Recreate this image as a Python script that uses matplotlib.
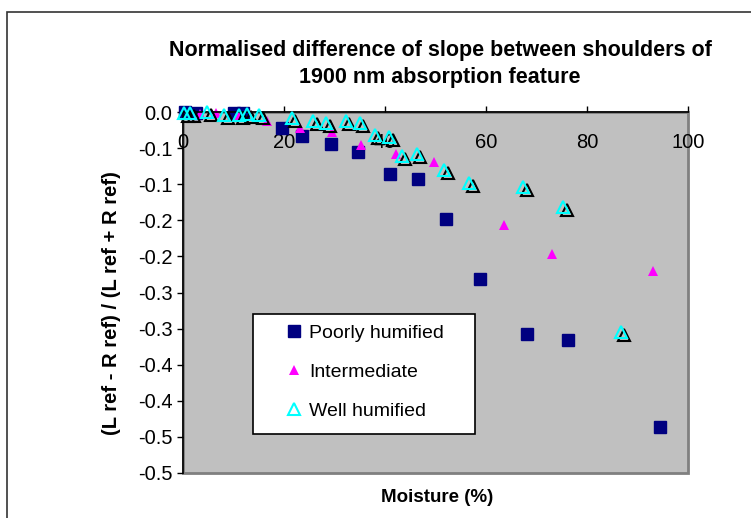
import matplotlib
matplotlib.use('Agg')
import matplotlib.pyplot as plt
import matplotlib.transforms as mtransforms
from matplotlib.patches import Rectangle
import numpy as np

# 数据
poor_x = [0.3, 2.6, 10.0, 11.8, 19.7, 23.5, 29.4, 34.6, 41.0, 46.5, 52.1, 58.8, 68.2, 76.3, 94.4]
poor_y = [0.0, -0.001, -0.001, -0.002, -0.022, -0.033, -0.044, -0.055, -0.086, -0.093,
          -0.148, -0.231, -0.308, -0.316, -0.436]

inter_x = [3.4, 6.6, 10.9, 16.7, 23.1, 29.6, 35.2, 42.1, 49.7, 63.6, 73.0, 93.0]
inter_y = [-0.003, -0.001, -0.004, -0.012, -0.022, -0.028, -0.046, -0.058, -0.069,
           -0.157, -0.196, -0.220]

well_x = [0.2, 1.4, 4.8, 8.2, 11.1, 12.7, 15.1, 21.5, 25.8, 28.4, 32.2, 35.0, 38.0,
          40.8, 43.3, 46.3, 51.7, 56.7, 67.4, 75.3, 86.7]
well_y = [-0.001, -0.001, 0.0, -0.004, -0.004, -0.003, -0.004, -0.008, -0.012, -0.015,
          -0.012, -0.015, -0.032, -0.035, -0.061, -0.058, -0.080, -0.099, -0.104,
          -0.131, -0.305]

x_ticks = [0, 20, 40, 60, 80, 100]
y_ticks = [0.0, -0.05, -0.1, -0.15, -0.2, -0.25, -0.3, -0.35, -0.4, -0.45, -0.5]
y_tick_labels = ['0.0', '-0.1', '-0.1', '-0.2', '-0.2', '-0.3', '-0.3', '-0.4', '-0.4', '-0.5', '-0.5']

title = 'Normalised difference of slope between shoulders of\n1900 nm absorption feature'
x_label = 'Moisture (%)'
y_label = '(L ref - R ref) / (L ref + R ref)'


def main():
    plt.rcParams['font.family'] = ['Liberation Sans', 'DejaVu Sans']
    W, H = 751, 518
    fig = plt.figure(figsize=(W / 100, H / 100), dpi=100)
    ax = fig.add_axes([183 / W, 1 - 473 / H, 505 / W, 361 / H])

    # 绘图区灰色背景
    ax.set_facecolor('#C0C0C0')
    ax.patch.set_edgecolor('#808080')
    ax.patch.set_linewidth(2)

    # 黑色阴影三角形（向右下偏移）
    shadow = ax.transData + mtransforms.ScaledTranslation(0.035, -0.03, fig.dpi_scale_trans)
    ax.plot(well_x, well_y, linestyle='none', marker='^', markersize=8,
            markerfacecolor='none', markeredgecolor='black', markeredgewidth=1.5,
            transform=shadow, clip_on=False, zorder=3)

    ax.plot(poor_x, poor_y, linestyle='none', marker='s', markersize=8,
            color='#000080', label='Poorly humified', clip_on=False, zorder=2)
    ax.plot(inter_x, inter_y, linestyle='none', marker='^', markersize=7,
            color='#FF00FF', markeredgewidth=0, label='Intermediate', clip_on=False, zorder=2)
    ax.plot(well_x, well_y, linestyle='none', marker='^', markersize=8,
            markerfacecolor='none', markeredgecolor='#00FFFF', markeredgewidth=1.5,
            label='Well humified', clip_on=False, zorder=4)

    ax.set_xlim(0, 100)
    ax.set_ylim(-0.5, 0)

    # x轴在 y=0 处（顶部）
    ax.spines['bottom'].set_position(('data', 0))
    ax.spines['top'].set_visible(False)
    ax.spines['right'].set_visible(False)
    for s in ['bottom', 'left']:
        ax.spines[s].set_color('black')
        ax.spines[s].set_linewidth(1.2)

    ax.set_xticks(x_ticks)
    ax.set_xticklabels([str(t) for t in x_ticks])
    ax.set_yticks(y_ticks)
    ax.set_yticklabels(y_tick_labels)
    ax.tick_params(axis='x', direction='in', length=4.5, width=1, pad=15, labelsize=14.5)
    ax.tick_params(axis='y', direction='out', length=4.5, width=1, pad=3, labelsize=14.5)

    fig.text(440 / W, 1 - 64 / H, title, ha='center', va='center',
             fontsize=15.5, fontweight='bold', linespacing=1.35)
    fig.text(437 / W, 1 - 497 / H, x_label, ha='center', va='center',
             fontsize=13.5, fontweight='bold')
    fig.text(112 / W, 1 - 303 / H, y_label, ha='center', va='center',
             rotation=90, fontsize=14.5, fontweight='bold')

    # 图例框
    box = Rectangle((70 / 505, 1 - 322 / 361), 222 / 505, 120 / 361, transform=ax.transAxes,
                    facecolor='white', edgecolor='black', linewidth=1.2, zorder=5)
    ax.add_patch(box)
    leg = ax.legend(loc='upper left', bbox_to_anchor=((284 - 183) / 505, 1 - (324 - 112) / 361),
                    frameon=False, fontsize=14, borderpad=0, borderaxespad=0,
                    handlelength=1.0, handletextpad=0.3, labelspacing=1.1, numpoints=1)
    leg.set_zorder(6)

    # 整个图表外框
    fig.patches.append(Rectangle((7 / W, -0.05), 1.0, 1 - 12 / H + 0.05,
                                 transform=fig.transFigure, fill=False,
                                 edgecolor='#333333', linewidth=1.2))

    fig.savefig('out.png', dpi=100)


if __name__ == "__main__":
    main()
